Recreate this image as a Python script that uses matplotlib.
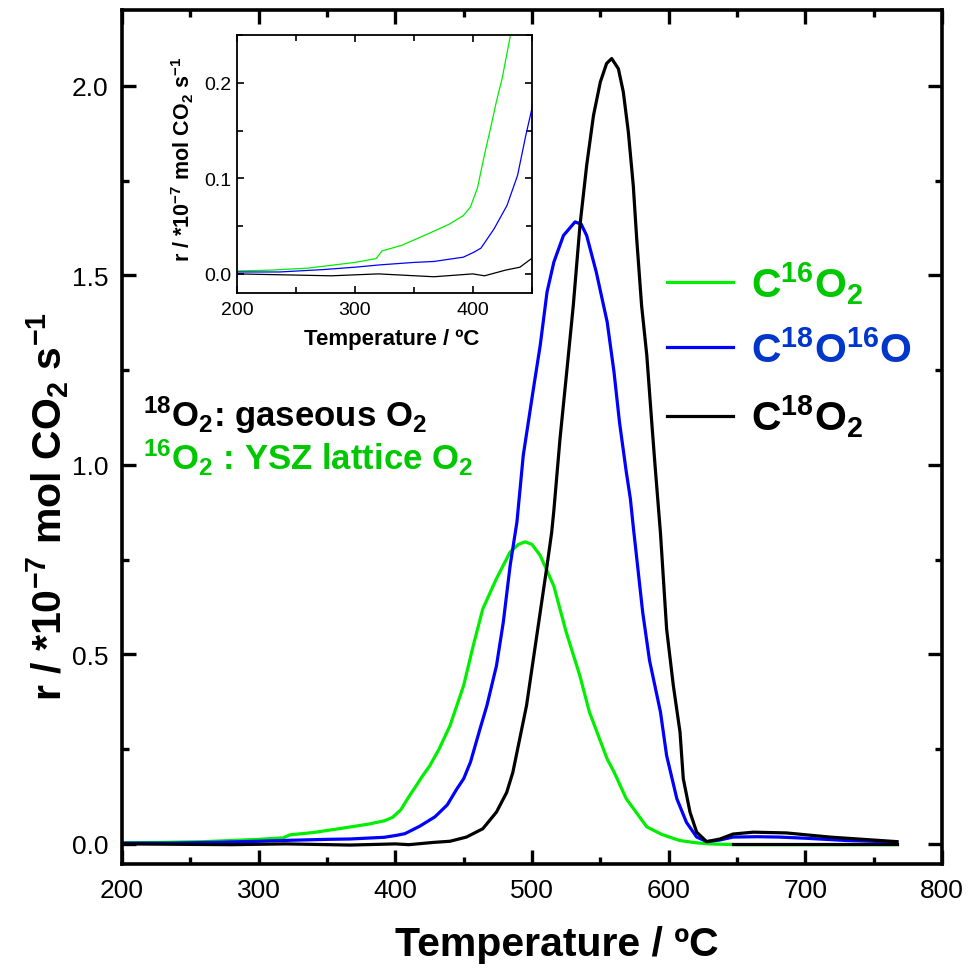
import matplotlib
matplotlib.use('Agg')
import matplotlib.pyplot as plt
from matplotlib.ticker import MultipleLocator

plt.rcParams['font.family'] = ['Liberation Sans', 'DejaVu Sans']
plt.rcParams['mathtext.fontset'] = 'custom'
plt.rcParams['mathtext.rm'] = 'Liberation Sans:bold'
plt.rcParams['mathtext.bf'] = 'Liberation Sans:bold'
plt.rcParams['mathtext.it'] = 'Liberation Sans:bold'
plt.rcParams['mathtext.default'] = 'bf'

# C16O2 (lattice oxygen)
t_c16 = [200, 230, 260, 280, 300, 318, 323, 340, 364, 380, 392, 398, 404, 410, 415,
         420, 425, 432, 440, 450, 457, 464, 474, 484, 490, 495, 500, 506, 516, 525,
         535, 542, 555, 560, 569, 584, 595, 608, 620, 630, 650, 700, 767]
r_c16 = [0.003, 0.004, 0.006, 0.009, 0.012, 0.016, 0.024, 0.030, 0.043, 0.052, 0.061,
         0.070, 0.090, 0.125, 0.152, 0.180, 0.205, 0.250, 0.312, 0.418, 0.523, 0.620,
         0.700, 0.770, 0.790, 0.797, 0.790, 0.761, 0.680, 0.559, 0.444, 0.348, 0.224,
         0.190, 0.119, 0.045, 0.025, 0.009, 0.003, 0.000, -0.002, -0.002, -0.002]

# C18O16O
t_c1816 = [200, 236, 273, 300, 321, 350, 367, 392, 401, 407, 418, 429, 438, 445, 450,
           455, 462, 467, 474, 479, 484, 489, 493.6, 501, 506, 511, 516, 523, 531.5,
           536, 540, 547, 555, 560, 564, 569, 572, 574, 581, 586, 594, 598.5, 606, 613,
           620.5, 628, 637, 647, 665, 681, 700, 730, 767]
r_c1816 = [0.002, 0.002, 0.0045, 0.007, 0.0094, 0.012, 0.013, 0.0175, 0.0227, 0.027,
           0.047, 0.0715, 0.103, 0.145, 0.172, 0.216, 0.304, 0.365, 0.470, 0.585, 0.734,
           0.850, 1.025, 1.200, 1.315, 1.456, 1.535, 1.605, 1.641, 1.635, 1.605, 1.509,
           1.377, 1.245, 1.113, 0.981, 0.910, 0.840, 0.611, 0.484, 0.348, 0.233, 0.119,
           0.057, 0.018, 0.006, 0.010, 0.018, 0.019, 0.018, 0.015, 0.009, 0.005]

# C18O2 (gaseous oxygen)
t_c18 = [200, 280, 320, 367, 400, 410, 428, 440, 452, 464, 474, 481.5, 486, 491, 496,
         501, 506, 511, 514.4, 516, 520.5, 525.4, 530.2, 535.1, 540, 545, 550, 554.6,
         558.3, 563.2, 566.8, 570.5, 574.1, 576.6, 580.2, 584, 587.6, 590, 594, 598.5,
         603.4, 608.3, 610.7, 615.6, 620.5, 627.8, 637.6, 647, 662, 686, 718, 767]
r_c18 = [0.000, -0.002, 0.000, -0.003, 0.000, -0.002, 0.004, 0.007, 0.018, 0.040, 0.084,
         0.136, 0.189, 0.277, 0.365, 0.488, 0.611, 0.734, 0.822, 0.880, 1.069, 1.245,
         1.420, 1.632, 1.790, 1.922, 2.010, 2.059, 2.072, 2.045, 1.984, 1.878, 1.737,
         1.597, 1.420, 1.289, 1.113, 1.000, 0.820, 0.567, 0.418, 0.295, 0.172, 0.084,
         0.031, 0.006, 0.013, 0.026, 0.031, 0.029, 0.018, 0.006]
# flat C18O2 baseline segment at the end of the run
t_c18_base = [647, 767]
r_c18_base = [-0.001, -0.001]

green_line = '#00ee00'
green_text = '#00c800'
blue_line = '#0000ff'
blue_text = '#0036cc'

fig = plt.figure(figsize=(9.68, 9.70), dpi=100)
ax = fig.add_axes([122 / 968, 1 - 865 / 970, 820 / 968, 854 / 970])

l1, = ax.plot(t_c16, r_c16, color=green_line, lw=2.3)
l2, = ax.plot(t_c1816, r_c1816, color=blue_line, lw=2.3)
l3, = ax.plot(t_c18, r_c18, color='black', lw=2.3)
ax.plot(t_c18_base, r_c18_base, color='black', lw=2.3)

ax.set_xlim(200, 800)
ax.set_ylim(-0.053, 2.2)
ax.xaxis.set_major_locator(MultipleLocator(100))
ax.xaxis.set_minor_locator(MultipleLocator(50))
ax.yaxis.set_major_locator(MultipleLocator(0.5))
ax.yaxis.set_minor_locator(MultipleLocator(0.25))
ax.yaxis.set_major_formatter(matplotlib.ticker.FormatStrFormatter('%.1f'))
ax.tick_params(which='both', direction='in', top=True, right=True, labelsize=19, width=2.4)
ax.tick_params(which='major', length=10, pad=10)
ax.tick_params(which='minor', length=5)
for s in ax.spines.values():
    s.set_linewidth(2.6)

ax.set_xlabel('Temperature / ºC', fontsize=29.5, fontweight='bold')
ax.set_ylabel(r'r / *10$^{-7}$ mol CO$_2$ s$^{-1}$', fontsize=29.5, fontweight='bold')
ax.xaxis.set_label_coords(0.53, -0.072)
ax.yaxis.set_label_coords(-0.062, 0.42)

leg = ax.legend([l1, l2, l3], [r'C$^{16}$O$_2$', r'C$^{18}$O$^{16}$O', r'C$^{18}$O$_2$'],
                loc='upper left', bbox_to_anchor=(0.665, 0.708), frameon=False,
                fontsize=29.5, handlelength=1.6, handletextpad=0.45, borderpad=0,
                borderaxespad=0, labelspacing=0.58)
for txt, c in zip(leg.get_texts(), [green_text, blue_text, 'black']):
    txt.set_color(c)
    txt.set_fontweight('bold')

ax.text(0.026, 0.513, r'$^{18}$O$_2$: gaseous O$_2$', transform=ax.transAxes,
        fontsize=25, fontweight='bold', color='black', va='baseline')
ax.text(0.026, 0.4625, r'$^{16}$O$_2$ : YSZ lattice O$_2$', transform=ax.transAxes,
        fontsize=25, fontweight='bold', color=green_text, va='baseline')

# inset: low-temperature onset
ins = fig.add_axes([237 / 968, 1 - 294 / 970, 294.7 / 968, 258 / 970])
ins.plot(t_c16, r_c16, color=green_line, lw=0.9)
ins.plot(t_c1816, r_c1816, color=blue_line, lw=0.9)
ins.plot(t_c18, r_c18, color='black', lw=0.9)
ins.set_xlim(200, 450)
ins.set_ylim(-0.02, 0.25)
ins.xaxis.set_major_locator(MultipleLocator(100))
ins.xaxis.set_minor_locator(MultipleLocator(50))
ins.yaxis.set_major_locator(MultipleLocator(0.1))
ins.yaxis.set_minor_locator(MultipleLocator(0.05))
ins.tick_params(which='both', direction='in', top=True, right=True, labelsize=14, width=1.2)
ins.tick_params(which='major', length=5, pad=6)
ins.tick_params(axis='y', which='major', pad=4)
ins.tick_params(which='minor', length=4)
for s in ins.spines.values():
    s.set_linewidth(1.3)
ins.set_xlabel('Temperature / ºC', fontsize=16, fontweight='bold')
ins.set_ylabel(r'r / *10$^{-7}$ mol CO$_2$ s$^{-1}$', fontsize=15.5, fontweight='bold')
ins.xaxis.set_label_coords(0.526, -0.135)
ins.yaxis.set_label_coords(-0.14, 0.52)

fig.savefig('out.png', dpi=100)
